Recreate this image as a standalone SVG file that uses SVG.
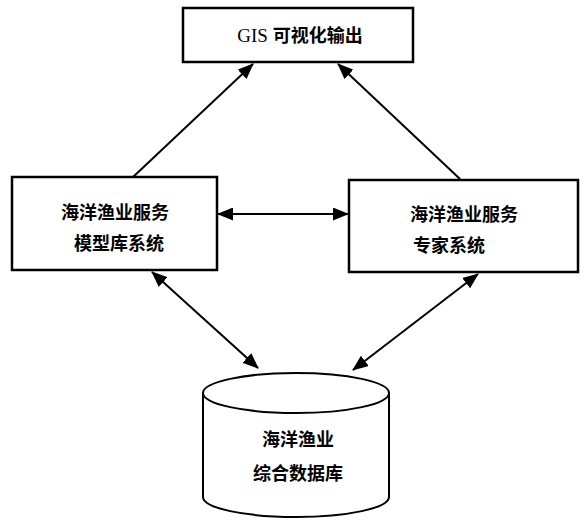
<svg xmlns="http://www.w3.org/2000/svg" width="588" height="524" viewBox="0 0 588 524">
<style>
.box{fill:#fff;stroke:#000;stroke-width:2.5}
.cyl{fill:#fff;stroke:#000;stroke-width:2}
.t{font-family:"Noto Sans CJK SC","Noto Sans",sans-serif;font-size:18px;font-weight:bold;fill:#000}
.g{font-family:"Liberation Serif","Noto Sans CJK SC",serif;font-size:19px;fill:#000}
.c{stroke:#000;stroke-width:2;fill:none;marker-end:url(#ah);marker-start:url(#ah)}
</style>
<defs>
<marker id="ah" viewBox="0 0 16 13" refX="15" refY="6.5" markerWidth="16" markerHeight="13" markerUnits="userSpaceOnUse" orient="auto-start-reverse">
<path d="M0,0 L16,6.5 L0,13 Z" fill="#000"/>
</marker>
</defs>
<g id="connectors">
<path class="c" d="M133,177 L253,64" style="marker-start:none"/>
<path class="c" d="M460,179 L338,64" style="marker-start:none"/>
<path class="c" d="M218,214 L348,214"/>
<path class="c" d="M152,272 L258,368"/>
<path class="c" d="M478,274 L353,370"/>
</g>
<g id="gis">
<rect class="box" x="183" y="8" width="230" height="54"/>
<text class="g" x="300" y="42" text-anchor="middle">GIS <tspan font-family="Noto Sans CJK SC, sans-serif" font-size="18" font-weight="bold">可视化输出</tspan></text>
</g>
<g id="model">
<rect class="box" x="12" y="177" width="205" height="93"/>
<text class="t" x="115" y="219" text-anchor="middle">海洋渔业服务</text>
<text class="t" x="119" y="250" text-anchor="middle">模型库系统</text>
</g>
<g id="expert">
<rect class="box" x="349" y="180" width="229" height="92"/>
<text class="t" x="410" y="221">海洋渔业服务</text>
<text class="t" x="413" y="252">专家系统</text>
</g>
<g id="db">
<path class="cyl" d="M203,393 L203,497 A93,20 0 0 0 389,497 L389,393"/>
<ellipse class="cyl" cx="296" cy="393" rx="93" ry="20"/>
<text class="t" x="298" y="446" text-anchor="middle">海洋渔业</text>
<text class="t" x="298" y="480" text-anchor="middle">综合数据库</text>
</g>
</svg>
